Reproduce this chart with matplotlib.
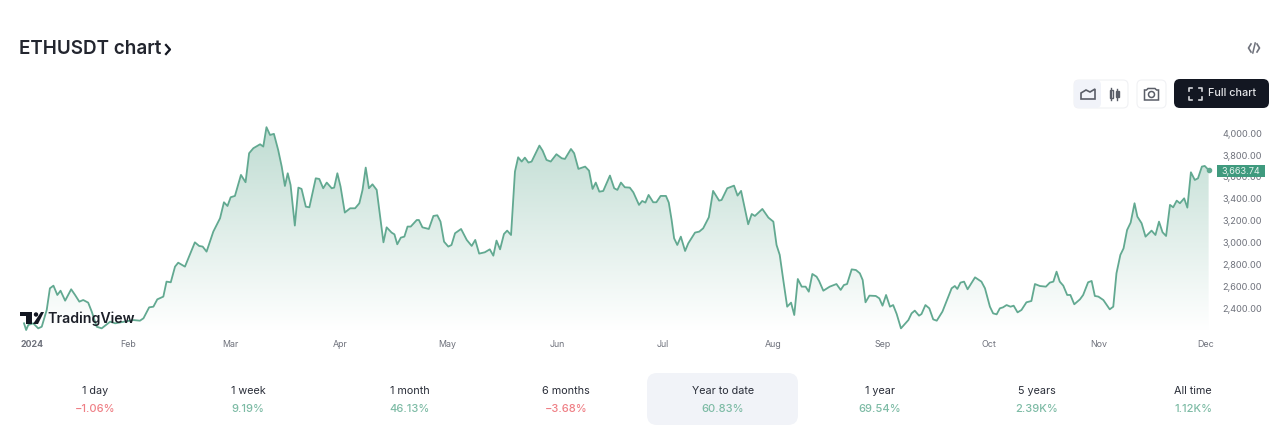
import numpy as np
import matplotlib
matplotlib.use('Agg')
import matplotlib.pyplot as plt
from matplotlib.patches import FancyBboxPatch, Circle, Polygon, Rectangle
from matplotlib.colors import LinearSegmentedColormap

plt.rcParams['font.family'] = ['Inter', 'DejaVu Sans']

# day of the year 2024 and ETHUSDT price
days = [1.7, 2.3, 2.9, 4.3, 5.7, 6.7, 8.1, 9.0, 10.0, 11.1, 12.0, 13.3, 15.0, 16.1, 17.3, 18.4, 19.8, 20.8, 22.2, 23.6,
        24.8, 26.0, 27.4, 32.5, 34.4, 35.4, 37.0, 38.2, 39.3, 41.0, 41.9, 43.1, 44.3, 45.2, 47.1, 49.9, 51.1, 52.1, 53.2, 55.1,
        57.0, 58.1, 59.1, 60.0, 61.2, 62.9, 64.2, 65.2, 66.4, 68.3, 69.2, 70.1, 71.1, 72.2, 73.4, 74.4, 75.3, 76.1, 76.9, 78.1,
        79.1, 80.0, 81.2, 82.2, 84.0, 85.0, 86.1, 87.1, 88.5, 89.2, 90.1, 91.0, 92.2, 93.7, 95.1, 96.3, 97.2, 98.1, 99.0, 100.0,
        101.2, 103.1, 104.0, 105.4, 106.2, 107.0, 108.0, 109.0, 109.9, 110.8, 112.5, 113.1, 114.1, 115.9, 117.2, 118.3, 119.2, 120.2, 121.4, 122.3,
        123.3, 125.0, 126.6, 128.0, 129.0, 130.1, 131.7, 133.1, 134.1, 135.0, 136.0, 137.1, 138.0, 139.1, 140.2, 141.1, 142.1, 143.0, 144.0, 144.9,
        147.1, 148.0, 149.1, 150.3, 151.9, 153.4, 154.3, 156.0, 156.9, 158.1, 160.0, 161.1, 162.1, 163.0, 164.0, 165.1, 167.0, 168.2, 169.1, 170.1,
        171.2, 172.6, 173.6, 175.2, 176.1, 177.0, 177.9, 179.2, 180.1, 181.3, 182.8, 183.6, 184.4, 185.1, 186.0, 187.0, 188.2, 189.1, 191.0, 192.2,
        193.3, 194.9, 196.1, 197.8, 198.5, 200.1, 202.0, 203.0, 204.0, 206.0, 207.0, 207.9, 210.0, 211.7, 213.1, 214.0, 214.9, 215.9, 217.0, 218.1,
        219.0, 220.0, 221.1, 222.2, 223.1, 224.1, 225.3, 226.0, 227.2, 229.0, 230.9, 232.1, 233.0, 233.9, 235.2, 236.4, 237.5, 238.3, 239.1, 240.2,
        242.0, 243.0, 243.9, 244.9, 246.0, 246.9, 247.9, 249.1, 251.2, 252.1, 253.0, 254.2, 254.9, 256.0, 257.1, 258.2, 259.2, 260.8, 263.4, 264.3,
        265.0, 265.9, 266.9, 267.9, 270.0, 271.8, 272.8, 274.2, 275.1, 276.1, 277.0, 277.9, 278.9, 280.0, 280.9, 282.0, 283.1, 284.5, 285.9, 286.9,
        288.3, 290.0, 291.1, 292.1, 293.0, 293.9, 294.9, 296.0, 296.9, 298.0, 299.6, 300.5, 301.9, 302.9, 303.8, 304.8, 306.2, 308.0, 309.0, 309.9,
        311.0, 311.9, 312.9, 313.9, 315.0, 315.8, 317.0, 318.1, 319.8, 320.9, 321.9, 322.9, 323.9, 325.0, 325.9, 326.9, 327.8, 329.0, 329.9, 330.9,
        332.0, 332.9, 334.0, 334.8, 335.9]
prices = [2263, 2202, 2248, 2263, 2217, 2232, 2385, 2583, 2607, 2522, 2561, 2470, 2574, 2522, 2461, 2476, 2452, 2370, 2232, 2217,
          2248, 2278, 2263, 2293, 2287, 2309, 2409, 2415, 2482, 2507, 2644, 2638, 2781, 2817, 2781, 3003, 2970, 2964, 2918, 3101,
          3223, 3369, 3335, 3415, 3427, 3619, 3552, 3817, 3863, 3899, 3878, 4055, 3984, 3994, 3847, 3695, 3518, 3634, 3527, 3156,
          3503, 3491, 3329, 3323, 3588, 3582, 3497, 3549, 3497, 3503, 3634, 3512, 3275, 3314, 3314, 3360, 3482, 3686, 3497, 3533,
          3482, 3003, 3140, 3092, 3076, 2985, 3046, 3055, 3147, 3147, 3207, 3207, 3140, 3125, 3244, 3250, 3192, 3009, 2964, 2979,
          3086, 3125, 3025, 2970, 3025, 2900, 2912, 2939, 2881, 3019, 2939, 3079, 3110, 3070, 3649, 3780, 3741, 3777, 3732, 3741,
          3887, 3841, 3756, 3741, 3808, 3771, 3765, 3856, 3817, 3674, 3695, 3658, 3491, 3549, 3466, 3472, 3613, 3497, 3482, 3549,
          3506, 3503, 3460, 3345, 3381, 3366, 3436, 3369, 3369, 3427, 3427, 3366, 3207, 3040, 2979, 3055, 2924, 2994, 3092, 3101,
          3131, 3232, 3473, 3384, 3390, 3497, 3521, 3430, 3473, 3168, 3262, 3244, 3308, 3229, 3192, 2979, 2888, 2659, 2415, 2452,
          2339, 2668, 2598, 2598, 2552, 2714, 2689, 2650, 2561, 2598, 2622, 2568, 2613, 2622, 2756, 2750, 2720, 2659, 2455, 2516,
          2513, 2491, 2424, 2522, 2415, 2430, 2348, 2217, 2293, 2354, 2379, 2333, 2348, 2430, 2400, 2299, 2287, 2370, 2583, 2604,
          2577, 2635, 2644, 2574, 2683, 2644, 2583, 2415, 2354, 2345, 2400, 2409, 2430, 2415, 2424, 2363, 2385, 2455, 2467, 2622,
          2604, 2598, 2635, 2644, 2735, 2644, 2607, 2522, 2522, 2437, 2482, 2522, 2638, 2650, 2513, 2507, 2476, 2391, 2415, 2720,
          2888, 2948, 3116, 3183, 3360, 3238, 3177, 3055, 3110, 3070, 3192, 3095, 3061, 3345, 3323, 3384, 3360, 3405, 3320, 3643,
          3573, 3588, 3695, 3701, 3663.74]

month_days = [31, 60, 91, 121, 152, 182, 213, 244, 274, 305, 335]
month_names = ['Feb', 'Mar', 'Apr', 'May', 'Jun', 'Jul', 'Aug', 'Sep', 'Oct', 'Nov', 'Dec']
price_ticks = [2400, 2600, 2800, 3000, 3200, 3400, 3600, 3800, 4000]

periods = ['1 day', '1 week', '1 month', '6 months', 'Year to date', '1 year', '5 years', 'All time']
changes = ['\u22121.06%', '9.19%', '46.13%', '\u22123.68%', '60.83%', '69.54%', '2.39K%', '1.12K%']
change_up = [False, True, True, False, True, True, True, True]

W, H = 1280, 442
GREEN = '#62a991'
DARK = '#131722'
GREY = '#6f727c'

fig = plt.figure(figsize=(W / 100, H / 100), dpi=100, facecolor='white')

# chart area, x 18-1215 and y 125-330 in pixels
ax = fig.add_axes([18 / W, (H - 330) / H, (1215 - 18) / W, 205 / H])
ax.set_xlim(0, 337.7)
ax.set_ylim(2202, 4075)
for s in ax.spines.values():
    s.set_visible(False)
ax.set_facecolor('none')

cmap = LinearSegmentedColormap.from_list('area', ['#ffffff', '#bfdcd2'])
grad = ax.imshow(np.linspace(1, 0, 256).reshape(-1, 1), cmap=cmap, aspect='auto', vmin=0, vmax=1,
                 extent=[0, 337.7, 2202, 4075], zorder=1)
area = ax.fill_between(days, prices, 2202, color='none', zorder=1)
grad.set_clip_path(area.get_paths()[0], transform=ax.transData)

ax.plot(days, prices, color=GREEN, lw=1.3, solid_joinstyle='round', zorder=3, clip_on=False)
ax.plot(days[-1], prices[-1], 'o', color=GREEN, ms=3, zorder=4, clip_on=False)

ax.yaxis.tick_right()
ax.set_yticks(price_ticks)
ax.set_yticklabels([f'{p:,.2f}' for p in price_ticks], fontsize=6.6, color=GREY)
ax.set_xticks([0.6] + month_days)
ax.set_xticklabels(['2024'] + month_names, fontsize=6.4, color=GREY)
ax.get_xticklabels()[0].set_ha('left')
ax.get_xticklabels()[0].set_fontweight('bold')
ax.tick_params(length=0)
ax.tick_params(axis='y', pad=5.5)
ax.tick_params(axis='x', pad=7.5)

# everything around the chart, in pixel coordinates with y going down
ui = fig.add_axes([0, 0, 1, 1], zorder=5)
ui.set_xlim(0, W)
ui.set_ylim(H, 0)
ui.axis('off')


def box(x0, y0, x1, y1, r, color, edge='none'):
    ui.add_patch(FancyBboxPatch((x0 + r, y0 + r), x1 - x0 - 2 * r, y1 - y0 - 2 * r,
                                boxstyle=f'round,pad={r}', fc=color, ec=edge, lw=0.8))


ui.text(19, 49, 'ETHUSDT chart', fontsize=13.6, fontweight='semibold', color='#23262f', va='center')
ui.plot([166, 170, 166], [45, 49.5, 54], color=DARK, lw=1.6)

# embed icon
ui.plot([1251, 1248.5, 1251], [44, 48, 52], color=GREY, lw=1.2)
ui.plot([1257, 1259.5, 1257], [44, 48, 52], color=GREY, lw=1.2)
ui.plot([1252.8, 1255.2], [53, 43], color=GREY, lw=1.1)

# style and snapshot buttons
box(1074, 80, 1128, 108, 5, 'white', '#f0f1f4')
box(1074, 80, 1101, 108, 5, '#f1f3f9')
ui.add_patch(Polygon([(1081, 99), (1081, 93), (1086, 90), (1090, 92), (1095, 89), (1095, 99)], fc='none', ec='#5a5e68', lw=1.2))
ui.plot([1111, 1111], [88, 100], color='#5a5e68', lw=1)
ui.plot([1117, 1117], [89, 100], color='#5a5e68', lw=1)
ui.add_patch(Rectangle((1109.5, 90), 3, 8, fc='white', ec='#5a5e68', lw=1))
ui.add_patch(Rectangle((1115.5, 91), 3, 6, fc='#5a5e68', ec='#5a5e68', lw=1))
box(1137, 80, 1166, 108, 5, 'white', '#f0f1f4')
ui.add_patch(Polygon([(1148, 88.5), (1155, 88.5), (1156.5, 90), (1158.5, 90), (1158.5, 100), (1144.5, 100), (1144.5, 90), (1146.5, 90)],
                     fc='white', ec='#5a5e68', lw=1.1))
ui.add_patch(Circle((1151.5, 94.5), 3, fc='white', ec='#5a5e68', lw=1.1))

# full chart button
box(1174, 79, 1269, 108, 6, DARK)
for cx, cy in [(1189, 88), (1202, 88), (1189, 100), (1202, 100)]:
    sx = 3 if cx < 1195 else -3
    sy = 3 if cy < 95 else -3
    ui.plot([cx, cx, cx + sx], [cy + sy, cy, cy], color='#d5d6da', lw=1.2)
ui.text(1208, 93.5, 'Full chart', fontsize=7.8, fontweight='medium', color='#e4e5e8', va='center')

# last price badge
ui.add_patch(Rectangle((1217, 165), 48, 12, fc='#3f9a7e', ec='none'))
ui.text(1241, 171, '3,663.74', fontsize=6.6, color='#e8f3ef', ha='center', va='center')

# TradingView logo
ui.add_patch(Polygon([(20, 312), (32, 312), (32, 324), (26, 324), (26, 316), (20, 316)], fc=DARK))
ui.add_patch(Circle((36, 314.5), 2.2, fc=DARK))
ui.add_patch(Polygon([(41, 312), (44, 312), (38, 324), (33, 324)], fc=DARK))
ui.text(47, 318.5, 'TradingView', fontsize=10.2, fontweight='semibold', color='#1c1f28', va='center')

# performance row
box(647, 373, 798, 425, 10, '#f1f3f8')
centers = [95, 248, 410, 566, 723, 880, 1037, 1193]
for c, name, change, up in zip(centers, periods, changes, change_up):
    ui.text(c, 391.5, name, fontsize=7.8, color='#2a2e39', ha='center', va='center')
    ui.text(c, 408.5, change, fontsize=8, fontweight='medium', color='#7dbba5' if up else '#ef7f85', ha='center', va='center')

fig.savefig('out.png', dpi=100, facecolor='white')
